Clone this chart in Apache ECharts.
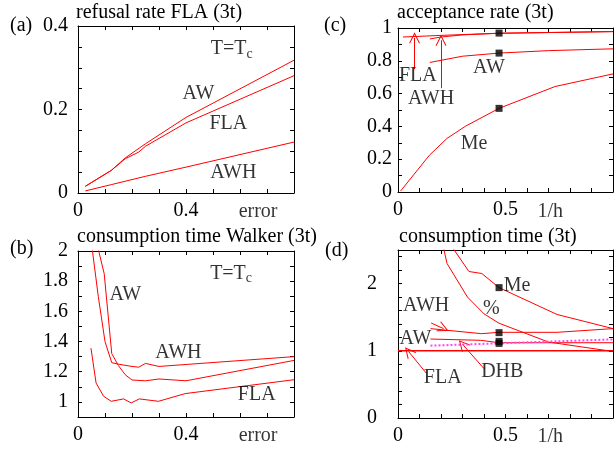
<!DOCTYPE html>
<html>
<head>
<meta charset="utf-8">
<script src="https://cdn.jsdelivr.net/npm/echarts@6/dist/echarts.min.js"></script>
<style>
html,body{margin:0;padding:0;background:#fff;}
#c{width:616px;height:449px;}
</style>
</head>
<body>
<div id="c"></div>
<script>
// ---------- data ----------
// (a) refusal rate FLA (3t) vs error
const aAW  = [[0.027,0.016],[0.075,0.035],[0.123,0.054],[0.175,0.084],[0.25,0.118],[0.4,0.181],[0.8,0.318]];
const aFLA = [[0.027,0.016],[0.075,0.035],[0.123,0.054],[0.175,0.082],[0.225,0.098],[0.25,0.112],[0.4,0.168],[0.8,0.281]];
const aAWH = [[0.027,0.005],[0.123,0.02],[0.25,0.04],[0.4,0.062],[0.8,0.122]];
// (b) consumption time Walker (3t) vs error
const bAW  = [[0.07,2.05],[0.097,1.85],[0.125,1.32],[0.15,1.24],[0.175,1.18],[0.2,1.145],[0.25,1.14],[0.3,1.152],[0.4,1.14],[0.8,1.275]];
const bAWH = [[0.05,2.05],[0.075,1.7],[0.1,1.4],[0.125,1.26],[0.15,1.25],[0.2,1.235],[0.225,1.23],[0.25,1.255],[0.3,1.235],[0.8,1.30]];
const bFLA = [[0.048,1.356],[0.067,1.125],[0.095,1.037],[0.123,1.004],[0.169,1.02],[0.197,0.993],[0.227,1.02],[0.298,1.004],[0.397,1.055],[0.8,1.147]];
// (c) acceptance rate (3t) vs 1/h
const cFLA = [[0.023,0.945],[0.2,0.955],[0.47,0.968],[1.0,0.978]];
const cAWH = [[0.148,0.933],[0.2,0.945],[0.3,0.958],[0.47,0.968],[1.0,0.978]];
const cAW  = [[0.148,0.79],[0.3,0.828],[0.47,0.847],[0.7,0.862],[1.0,0.873]];
const cMe  = [[0.012,0.006],[0.146,0.224],[0.228,0.327],[0.315,0.402],[0.47,0.51],[0.73,0.643],[1.0,0.72]];
const cPts = [[0.47,0.969],[0.47,0.847],[0.47,0.51]];
// (d) consumption time (3t) vs 1/h
const dMe  = [[0.24,2.6],[0.33,2.18],[0.39,2.15],[0.47,1.94],[0.74,1.54],[1.0,1.33]];
const dPct = [[0.207,2.6],[0.228,2.30],[0.323,1.80],[0.4,1.55],[0.47,1.41],[0.7,1.13],[1.0,0.99]];
const dAWH = [[0.151,1.33],[0.388,1.255],[0.47,1.275],[0.74,1.275],[1.0,1.33]];
const dAW  = [[0.151,1.175],[0.385,1.156],[0.47,1.12],[0.74,1.12],[1.0,1.12]];
const dDHB = [[0.151,1.076],[1.0,1.17]];
const dFLA = [[0,1],[1,1]];
const dPts = [[0.47,1.94],[0.47,1.27],[0.47,1.14],[0.47,1.11]];

// tick labels
const xLabelsErr = [0, 0.4];
const xLabelsH = [0, 0.5];

// ---------- chart ----------
const FONT = '"Liberation Serif","Times New Roman",serif';
const FS = 20;
const RED = '#ff0000';
const chart = echarts.init(document.getElementById('c'), null, {renderer:'canvas'});

const grids = [
  {left:78, top:26, width:216, height:167},   // a
  {left:78, top:251, width:216, height:166},  // b
  {left:398, top:28, width:217, height:164},  // c
  {left:398, top:250, width:217, height:168}  // d
];

function fmtNum(v){ return String(Math.round(v*1000)/1000); }
function near(v, list){ return list.some(t => Math.abs(v - t) < 1e-6); }

const xAxes = [], yAxes = [];
function addAxes(gi, xr, yr){
  const base = {
    gridIndex: gi, type:'value', splitLine:{show:false},
    axisLine:{show:true, onZero:false, lineStyle:{color:'#000', width:1}},
    axisTick:{show:true, inside:true, length:4, lineStyle:{color:'#000'}},
  };
  xAxes.push(Object.assign({}, base, {position:'bottom', min:xr[0], max:xr[1], interval:xr[2],
    axisLabel:{show:true, margin:8, color:'#000', fontFamily:FONT, fontSize:FS,
      formatter: v => near(v, xr[3]) ? fmtNum(v) : ''}}));
  xAxes.push(Object.assign({}, base, {position:'top', min:xr[0], max:xr[1], interval:xr[2], axisLabel:{show:false}}));
  yAxes.push(Object.assign({}, base, {position:'left', min:yr[0], max:yr[1], interval:yr[2],
    axisLabel:{show:true, margin:yr[4], color:'#000', fontFamily:FONT, fontSize:FS,
      formatter: v => { const k = Math.round(v/yr[3]); return Math.abs(v - k*yr[3]) < 1e-6 ? fmtNum(v) : ''; }}}));
  yAxes.push(Object.assign({}, base, {position:'right', min:yr[0], max:yr[1], interval:yr[2], axisLabel:{show:false}}));
}
addAxes(0, [0,0.8,0.1,xLabelsErr], [0,0.4,0.05,0.2,10]);
addAxes(1, [0,0.8,0.1,xLabelsErr], [0.9,2,0.1,0.2,10]);
addAxes(2, [0,1,0.1,xLabelsH], [0,1,0.1,0.2,6]);
addAxes(3, [0,1,0.1,xLabelsH], [0,2.5,0.2,1,21]);

const series = [];
function line(gi, data, extra){
  series.push(Object.assign({
    type:'line', xAxisIndex:2*gi, yAxisIndex:2*gi, data:data, showSymbol:false, symbol:'none',
    clip:true, silent:true, animation:false,
    lineStyle:{color:RED, width:1}
  }, extra||{}));
}
function squares(gi, data){
  series.push({type:'scatter', xAxisIndex:2*gi, yAxisIndex:2*gi, data:data, symbol:'rect', symbolSize:7,
    itemStyle:{color:'#000'}, silent:true, animation:false, z:5});
}
function labels(gi, items){
  series.push({type:'scatter', xAxisIndex:2*gi, yAxisIndex:2*gi, clip:false, silent:true, animation:false,
    symbol:'circle', symbolSize:1, itemStyle:{color:'rgba(0,0,0,0)'}, z:6,
    data: items.map(it => ({value:[it[0], it[1]], name:it[2]})),
    label:{show:true, position:'inside', color:'#000', fontFamily:FONT, fontSize:FS,
      align:'center', verticalAlign:'middle',
      formatter: p => p.name,
      rich:{s:{fontFamily:FONT, fontSize:14, color:'#000', padding:[10,0,0,0]}}}
  });
}
const ARROW = 'path://M0,10 L5,0 L10,10 L9,10 L5,2 L1,10 Z';
function arrows(gi, segs){
  series.push({type:'lines', coordinateSystem:'cartesian2d', xAxisIndex:2*gi, yAxisIndex:2*gi,
    silent:true, animation:false, symbol:['none', ARROW], symbolSize:[8,11],
    lineStyle:{color:RED, width:1, opacity:1, curveness:0},
    data: segs.map(s => ({coords:[[s[0],s[1]],[s[2],s[3]]]}))});
}

// (a)
line(0, aAW); line(0, aFLA); line(0, aAWH);
labels(0, [[0.569,0.345,'T=T{s|c}'],[0.446,0.2375,'AW'],[0.557,0.166,'FLA'],[0.575,0.048,'AWH'],[0.667,-0.044,'error']]);
// (b)
line(1, bAW); line(1, bAWH); line(1, bFLA);
labels(1, [[0.567,1.85,'T=T{s|c}'],[0.175,1.707,'AW'],[0.372,1.323,'AWH'],[0.662,1.048,'FLA'],[0.667,0.773,'error']]);
// (c)
line(2, cFLA); line(2, cAWH); line(2, cAW); line(2, cMe);
squares(2, cPts);
labels(2, [[0.092,0.71,'FLA'],[0.154,0.571,'AWH'],[0.423,0.755,'AW'],[0.354,0.292,'Me'],[0.708,-0.122,'1/h']]);
arrows(2, [[0.077,0.749,0.077,0.94],[0.2,0.633,0.2,0.925]]);
// (d)
line(3, dFLA, {lineStyle:{color:RED, width:1.5}});
line(3, dMe); line(3, dPct); line(3, dAWH); line(3, dAW);
line(3, dDHB, {lineStyle:{color:'#ff44ff', width:2, type:'dotted'}});
squares(3, dPts);
labels(3, [[0.554,1.975,'Me'],[0.434,1.63,'%'],[0.131,1.677,'AWH'],[0.081,1.18,'AW'],[0.208,0.60,'FLA'],[0.485,0.685,'DHB'],[0.708,-0.283,'1/h']]);
arrows(3, [[0.154,1.414,0.212,1.33],[0.131,0.67,0.049,0.99],[0.4,0.735,0.3,1.097]]);

function ttl(text, left, top){
  return {text:text, left:left, top:top, padding:0,
    textStyle:{fontFamily:FONT, fontSize:FS, fontWeight:'normal', color:'#000'}};
}

chart.setOption({
  animation:false,
  backgroundColor:'#fff',
  title:[
    ttl('refusal rate FLA (3t)', 76, 3),
    ttl('acceptance rate (3t)', 397, 3),
    ttl('consumption time Walker (3t)', 77, 227),
    ttl('consumption time (3t)', 399, 227),
    ttl('(a)', 10, 16),
    ttl('(c)', 324, 16),
    ttl('(b)', 10, 239),
    ttl('(d)', 325, 241)
  ],
  grid: grids,
  xAxis: xAxes,
  yAxis: yAxes,
  series: series
});
</script>
</body>
</html>
